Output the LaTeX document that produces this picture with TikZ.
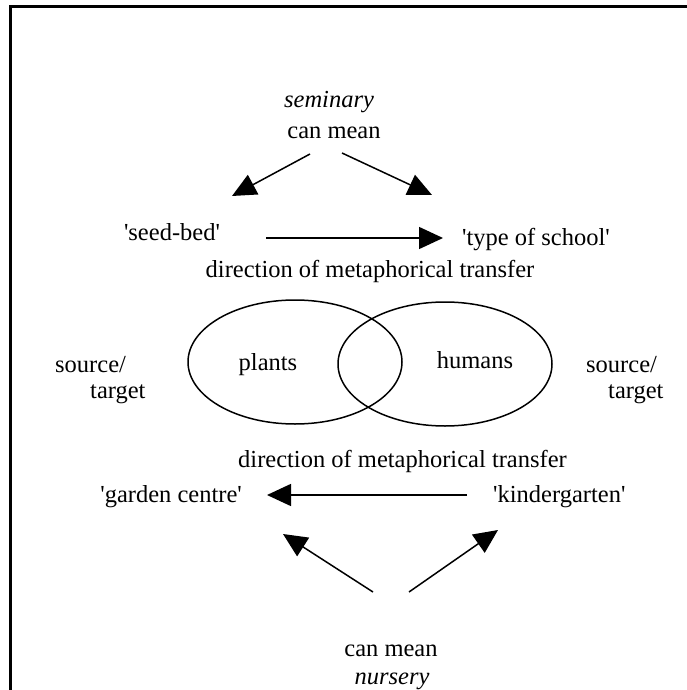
\documentclass[tikz,border=0pt]{standalone}
\usepackage{fontspec}
\setmainfont{Liberation Serif}
\usetikzlibrary{arrows.meta}
\newcommand{\q}{\textquotesingle}
\begin{document}
\begin{tikzpicture}[x=1pt,y=-1pt,
  lbl/.style={inner sep=0pt,anchor=base,font=\fontsize{24.5}{28}\selectfont},
  lblL/.style={lbl,anchor=base west},
  lblR/.style={lbl,anchor=base east},
  bigarrow/.style={line width=1.5pt,-{Triangle[length=24pt,width=22pt]}},
  set/.style={line width=1.5pt}]
\useasboundingbox (0,0) rectangle (687,690);
% open frame: top and left rules only
\draw[line width=3pt] (10,690) -- (10,6.5) -- (687,6.5);

% seminary
\node[lbl] (sem) at (329,107) {\itshape seminary};
\node[lbl] (canA) at (334,139) {can mean};
\coordinate (a1s) at (310,154);
\coordinate (a1e) at (232,196);
\coordinate (a2s) at (342,153);
\coordinate (a2e) at (432,195);
\draw[bigarrow] (a1s) -- (a1e);
\draw[bigarrow] (a2s) -- (a2e);
\node[lbl] (seed) at (172,240) {\q seed-bed\q};
\node[lbl] (school) at (536,245) {\q type of school\q};
\coordinate (h1s) at (266,238);
\coordinate (h1e) at (443,238);
\draw[bigarrow] (h1s) -- (h1e);
\node[lbl] (dirA) at (370,277) {direction of metaphorical transfer};

% overlapping domains
\draw[set] (295,362) ellipse [x radius=107, y radius=62];
\draw[set] (445,364) ellipse [x radius=107, y radius=62];
\node[lbl] (plants) at (268,370) {plants};
\node[lbl] (humans) at (475,368) {humans};
\node[lblL] (srcL) at (55,372) {source/};
\node[lblL] (tgtL) at (90,398) {target};
\node[lblL] (srcR) at (586,372) {source/};
\node[lblL] (tgtR) at (608,398) {target};

% nursery
\node[lblL] (dirB) at (238,467) {direction of metaphorical transfer};
\node[lblR] (garden) at (242,502) {\q garden centre\q};
\node[lblL] (kinder) at (493,502) {\q kindergarten\q};
\coordinate (h2s) at (467,495);
\coordinate (h2e) at (267,495);
\draw[bigarrow] (h2s) -- (h2e);
\coordinate (b1s) at (373,592);
\coordinate (b1e) at (283,534);
\coordinate (b2s) at (409,592);
\coordinate (b2e) at (498,530);
\draw[bigarrow] (b1s) -- (b1e);
\draw[bigarrow] (b2s) -- (b2e);
\node[lbl] (canB) at (391,656) {can mean};
\node[lbl] (nurs) at (392,684) {\itshape nursery};
\end{tikzpicture}
\end{document}
